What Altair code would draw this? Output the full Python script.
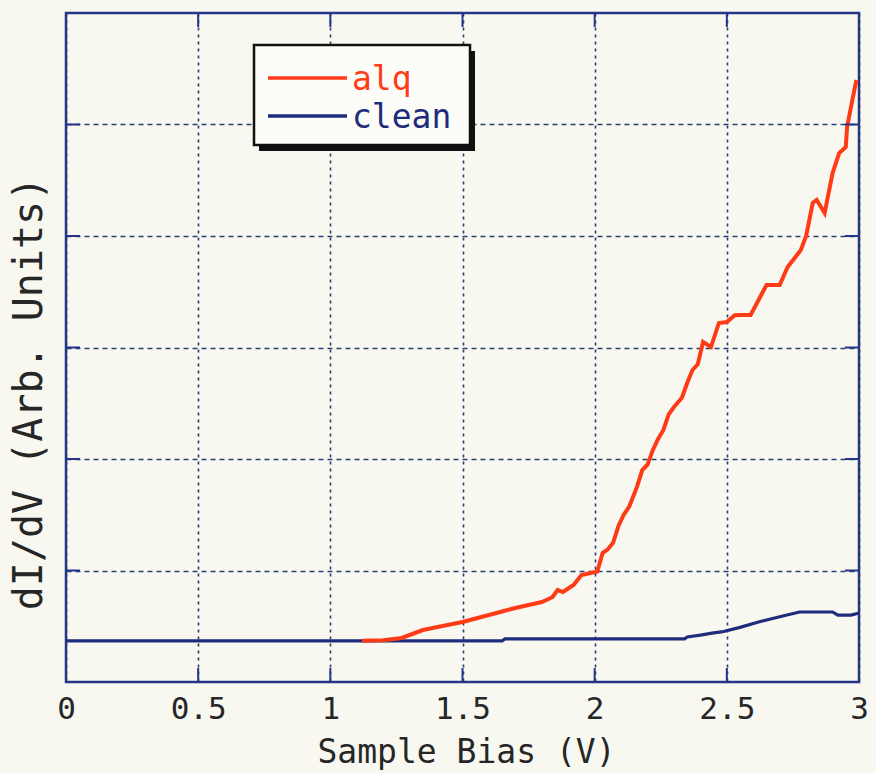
import altair as alt
import pandas as pd

# ---- data ----
series_names = ["alq", "clean"]
series_colors = ["#ff3b17", "#1f2c7c"]

alq_v = [1.12, 1.20, 1.27, 1.35, 1.42, 1.50, 1.60, 1.70, 1.80, 1.84, 1.86, 1.88,
         1.92, 1.95, 1.99, 2.01, 2.03, 2.05, 2.07, 2.09, 2.11, 2.13, 2.16, 2.18,
         2.20, 2.22, 2.24, 2.26, 2.28, 2.30, 2.33, 2.35, 2.37, 2.39, 2.41, 2.44,
         2.47, 2.50, 2.53, 2.55, 2.59, 2.62, 2.65, 2.70, 2.73, 2.78, 2.80, 2.825,
         2.84, 2.87, 2.90, 2.925, 2.95, 2.955, 2.975, 2.99]
alq_y = [0.37, 0.375, 0.395, 0.466, 0.50, 0.538, 0.601, 0.664, 0.717, 0.76, 0.825, 0.807,
         0.87, 0.96, 0.98, 0.99, 1.157, 1.19, 1.25, 1.40, 1.50, 1.57, 1.75, 1.90,
         1.95, 2.08, 2.18, 2.26, 2.40, 2.466, 2.55, 2.682, 2.798, 2.85, 3.049, 3.004,
         3.22, 3.229, 3.29, 3.291, 3.291, 3.426, 3.561, 3.561, 3.722, 3.874, 4.0, 4.296,
         4.323, 4.206, 4.565, 4.744, 4.798, 4.978, 5.22, 5.399]

clean_v = [0.0, 1.65, 1.66, 2.34, 2.35, 2.40, 2.45, 2.48, 2.55, 2.62, 2.70, 2.775,
           2.85, 2.90, 2.92, 2.97, 3.0]
clean_y = [0.368, 0.368, 0.386, 0.386, 0.404, 0.42, 0.44, 0.449, 0.49, 0.538, 0.585, 0.628,
           0.628, 0.628, 0.60, 0.60, 0.619]

x_ticks = [0, 0.5, 1, 1.5, 2, 2.5, 3]
y_ticks = [1, 2, 3, 4, 5]
x_title = "Sample Bias (V)"
y_title = "dI/dV (Arb. Units)"

# ---- style ----
W, H = 793, 669
FONT = "DejaVu Sans Mono"
TEXT = "#262626"
NAVY = "#24358a"
GRID = "#243f70"
BG = "#f8f8f1"
TICK_LEN = 14

alq_df = pd.DataFrame({"V": alq_v, "G": alq_y, "series": series_names[0]})
clean_df = pd.DataFrame({"V": clean_v, "G": clean_y, "series": series_names[1]})
xt_df = pd.DataFrame({"t": x_ticks[1:-1]})
yt_df = pd.DataFrame({"t": y_ticks})
dummy = pd.DataFrame({"d": [0]})

xscale = alt.Scale(domain=[0, 3], nice=False, zero=False)
yscale = alt.Scale(domain=[0, 6], nice=False, zero=False)

xaxis = alt.Axis(values=x_ticks, grid=True, gridDash=[3, 4], gridColor=GRID,
                 gridWidth=1.6, gridOpacity=1, ticks=False, domain=False,
                 labelFont=FONT, labelFontSize=31, labelColor=TEXT,
                 labelExpr="'' + datum.value", labelFlush=False, labelOverlap=False,
                 labelBaseline="alphabetic", labelPadding=36,
                 title=x_title, titleFont=FONT, titleFontSize=33, titleFontWeight="normal",
                 titleColor=TEXT, titleBaseline="alphabetic", titleY=80, titleX=400)
yaxis = alt.Axis(values=y_ticks, grid=True, gridDash=[5, 4], gridColor=GRID,
                 gridWidth=1.6, gridOpacity=1, ticks=False, domain=False, labels=False,
                 title=y_title, titleFont=FONT, titleFontSize=40, titleFontWeight="normal",
                 titleColor=TEXT, titleAngle=-90, titleX=-37, titleY=380,
                 titleAlign="center", titleBaseline="middle")

clean_line = alt.Chart(clean_df).mark_line(color=series_colors[1], strokeWidth=3.2).encode(
    x=alt.X("V:Q", scale=xscale, axis=xaxis),
    y=alt.Y("G:Q", scale=yscale, axis=yaxis),
)
alq_line = alt.Chart(alq_df).mark_line(color=series_colors[0], strokeWidth=4).encode(
    x=alt.X("V:Q", scale=xscale),
    y=alt.Y("G:Q", scale=yscale),
)

tick_style = dict(color=NAVY, strokeWidth=2)
bottom_ticks = alt.Chart(xt_df).mark_rule(**tick_style).encode(
    x=alt.X("t:Q", scale=xscale), y=alt.value(H), y2=alt.value(H - TICK_LEN))
top_ticks = alt.Chart(xt_df).mark_rule(**tick_style).encode(
    x=alt.X("t:Q", scale=xscale), y=alt.value(0), y2=alt.value(TICK_LEN))
left_ticks = alt.Chart(yt_df).mark_rule(**tick_style).encode(
    y=alt.Y("t:Q", scale=yscale), x=alt.value(0), x2=alt.value(TICK_LEN))
right_ticks = alt.Chart(yt_df).mark_rule(**tick_style).encode(
    y=alt.Y("t:Q", scale=yscale), x=alt.value(W), x2=alt.value(W - TICK_LEN))

# ---- legend box ----
LX0, LX1, LY0, LY1 = 188, 404, 32, 132
shadow = alt.Chart(dummy).mark_rect(color="#111111").encode(
    x=alt.value(LX0 + 5), x2=alt.value(LX1 + 5), y=alt.value(LY0 + 6), y2=alt.value(LY1 + 6))
box = alt.Chart(dummy).mark_rect(fill="#fcfcf8", stroke="#111111", strokeWidth=2.5).encode(
    x=alt.value(LX0), x2=alt.value(LX1), y=alt.value(LY0), y2=alt.value(LY1))

legend_layers = []
for i, (name, col) in enumerate(zip(series_names, series_colors)):
    ly = 65 + 38 * i
    ldf = pd.DataFrame({"name": [name]})
    legend_layers.append(alt.Chart(ldf).mark_rule(color=col, strokeWidth=3.5).encode(
        x=alt.value(202), x2=alt.value(281), y=alt.value(ly)))
    legend_layers.append(alt.Chart(ldf).mark_text(
        color=col, font=FONT, fontSize=33, align="left", baseline="alphabetic").encode(
        x=alt.value(286), y=alt.value(ly + 12), text="name:N"))

chart = alt.layer(
    clean_line, alq_line, bottom_ticks, top_ticks, left_ticks, right_ticks,
    shadow, box, *legend_layers
).properties(
    width=W, height=H,
    background=BG,
    padding={"left": 66, "top": 13, "right": 17, "bottom": 91},
    autosize=alt.AutoSizeParams(type="none"),
).configure_view(
    stroke=NAVY, strokeWidth=2.5, fill=BG
)

chart.save("out.html", embed_options={"renderer": "svg", "actions": False})
